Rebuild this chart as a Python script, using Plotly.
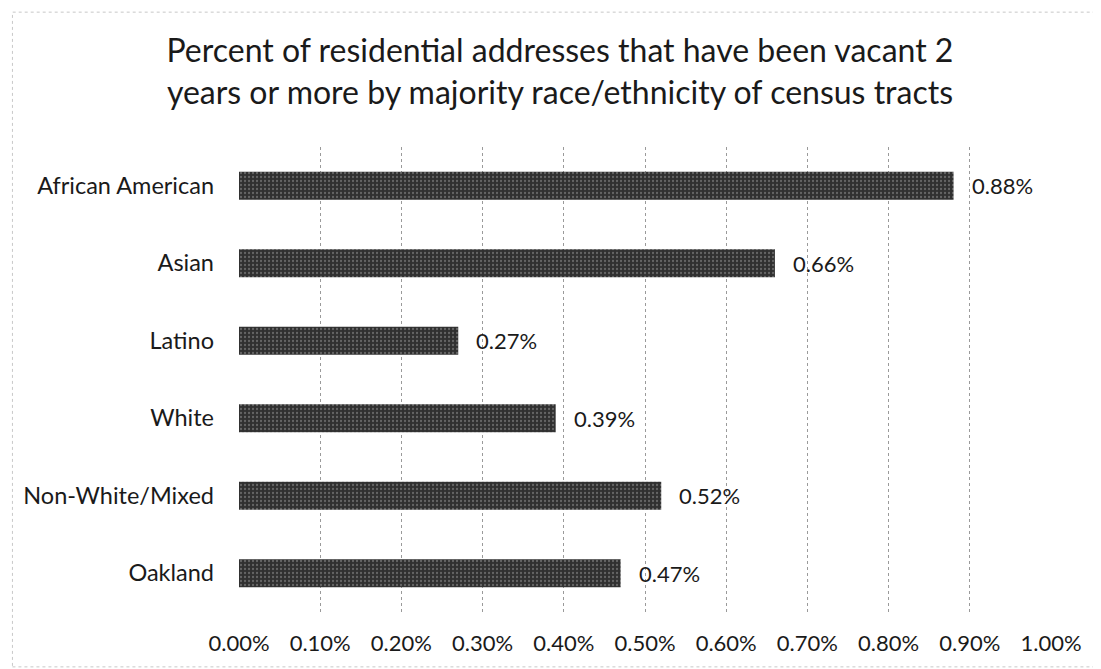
import plotly.graph_objects as go

categories = ["African American", "Asian", "Latino", "White", "Non-White/Mixed", "Oakland"]
values = [0.88, 0.66, 0.27, 0.39, 0.52, 0.47]
x_ticks = [0.0, 0.1, 0.2, 0.3, 0.4, 0.5, 0.6, 0.7, 0.8, 0.9, 1.0]
x_tick_labels = [f"{t:.2f}%" for t in x_ticks]
value_labels = [f"{v:.2f}%" for v in values]
title_text = ("Percent of residential addresses that have been vacant 2<br>"
              "years or more by majority race/ethnicity of census tracts")

FONT = "Lato, 'Open Sans', sans-serif"
TXT = "#1a1a1a"

fig = go.Figure()
fig.add_trace(go.Bar(
    x=values,
    y=categories,
    orientation="h",
    marker=dict(
        color="#303030",
        line=dict(width=0),
        pattern=dict(shape=".", fgcolor="#9a9a9a", bgcolor="#303030", size=4, solidity=0.25),
    ),
    hoverinfo="skip",
))

for c, v, lab in zip(categories, values, value_labels):
    fig.add_annotation(x=v, y=c, xref="x", yref="y", text=lab, showarrow=False,
                       xanchor="left", yanchor="middle", xshift=16,
                       font=dict(family=FONT, size=22, color=TXT))

fig.update_layout(
    width=1093, height=661,
    paper_bgcolor="white", plot_bgcolor="white",
    margin=dict(l=231, r=50, t=139, b=57),
    bargap=0.64,
    showlegend=False,
    font=dict(family=FONT, size=22, color=TXT),
    title=dict(text=title_text, x=0.505, xref="container", xanchor="center",
               y=0.918, yref="container", yanchor="top",
               font=dict(family=FONT, size=32, color=TXT)),
)
fig.update_xaxes(
    range=[0, 1.0], tickvals=x_ticks, ticktext=x_tick_labels,
    showgrid=True, gridcolor="#9a9a9a", griddash="dot", gridwidth=1,
    zeroline=False, showline=False, ticks="", ticklabelstandoff=16,
    tickfont=dict(family=FONT, size=22, color=TXT), fixedrange=True,
)
fig.update_yaxes(
    categoryorder="array", categoryarray=categories, autorange="reversed",
    showgrid=False, zeroline=False, showline=False, ticks="",
    ticklabelstandoff=24, tickfont=dict(family=FONT, size=23.5, color=TXT), fixedrange=True,
)
fig.add_shape(type="rect", xref="paper", yref="paper",
              x0=-0.279, x1=1.06, y0=-0.118, y1=1.29,
              line=dict(color="#c8c8c8", width=1, dash="dot"), layer="below")

fig.write_html("out.html")
